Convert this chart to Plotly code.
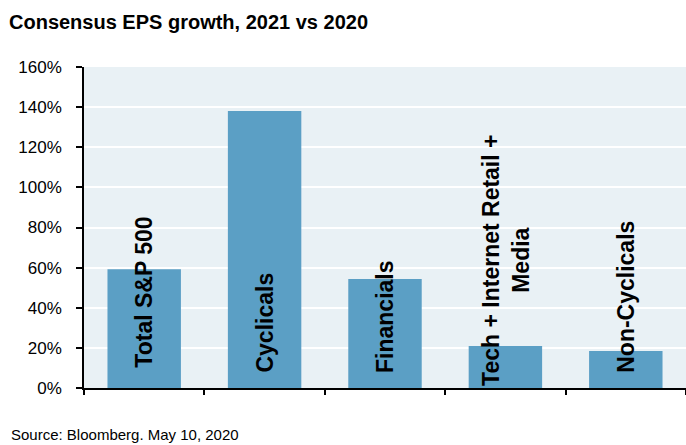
import plotly.graph_objects as go

categories = ["Total S&P 500", "Cyclicals", "Financials", "Tech + Internet Retail + Media", "Non-Cyclicals"]
label_text = ["Total S&P 500", "Cyclicals", "Financials", "Tech + Internet Retail +<br>Media", "Non-Cyclicals"]
eps_growth = [59.2, 138.1, 54.3, 20.9, 18.4]
y_ticks = [0, 20, 40, 60, 80, 100, 120, 140, 160]
y_tick_labels = [f"{v}%" for v in y_ticks]

# label base heights (in axis units) for placement of in-bar labels
label_base = [9.0, 6.5, 6.5, 0.0, 6.5]

BAR = "#5b9fc5"
BG = "#e9f1f5"
FONT = "Liberation Sans, Arial, sans-serif"

L, R, T, B, W, H = 84, 0, 67, 57, 686, 445
PW, PH = W - L - R, H - T - B

fig = go.Figure()
fig.add_trace(go.Bar(
    x=categories,
    y=eps_growth,
    marker=dict(color=BAR, line=dict(width=0)),
    width=0.61,
    hoverinfo="skip",
))

for cat, txt, base in zip(categories, label_text, label_base):
    fig.add_annotation(
        x=cat, y=base, xref="x", yref="y",
        text=f"<b>{txt}</b>", textangle=-90,
        showarrow=False, yanchor="bottom", xanchor="center", align="center",
        font=dict(family=FONT, size=23, color="black"),
    )

fig.add_annotation(
    x=(9 - L) / PW, y=(H - B - 435) / PH, xref="paper", yref="paper",
    text="Source: Bloomberg. May 10, 2020", showarrow=False,
    xanchor="left", yanchor="middle",
    font=dict(family=FONT, size=15, color="black"),
)

fig.update_layout(
    width=W, height=H,
    margin=dict(l=L, r=R, t=T, b=B, autoexpand=False),
    paper_bgcolor="white", plot_bgcolor=BG,
    showlegend=False,
    title=dict(
        text="<b>Consensus EPS growth, 2021 vs 2020</b>",
        x=9 / W, xanchor="left", xref="container",
        y=1 - 22 / H, yanchor="middle", yref="container",
        font=dict(family=FONT, size=20, color="black"),
    ),
    xaxis=dict(
        type="category",
        range=[-0.5, 4.5],
        showticklabels=False, tickson="boundaries",
        ticks="outside", ticklen=5, tickwidth=1.5, tickcolor="black",
        showline=True, linecolor="black", linewidth=1.5,
        showgrid=False, zeroline=False, fixedrange=True,
    ),
    yaxis=dict(
        range=[0, 160],
        tickmode="array", tickvals=y_ticks, ticktext=y_tick_labels,
        ticks="outside", ticklen=6, tickwidth=1.5, tickcolor="black",
        ticklabelstandoff=11,
        showline=True, linecolor="black", linewidth=1.5,
        showgrid=True, gridcolor="white", gridwidth=2,
        zeroline=False, fixedrange=True,
        tickfont=dict(family=FONT, size=17, color="black"),
    ),
)

fig.write_html("out.html", config={"displayModeBar": False},
               post_script="document.body.style.margin='0';document.body.style.padding='0';")
